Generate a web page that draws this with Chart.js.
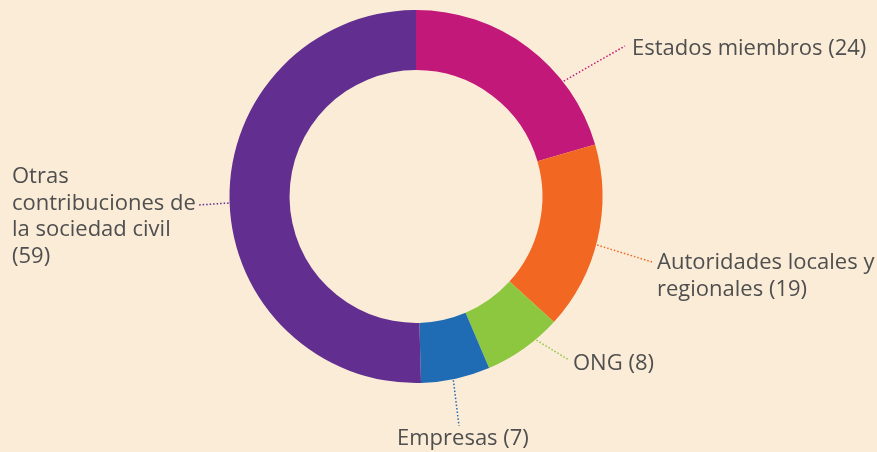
<!DOCTYPE html>
<html>
<head>
<meta charset="utf-8">
<script src="https://cdn.jsdelivr.net/npm/chart.js@4/dist/chart.umd.min.js"></script>
<style>
  html, body { margin: 0; padding: 0; background: #faecd7; }
  #chart { display: block; }
</style>
</head>
<body>
<canvas id="chart" width="877" height="452"></canvas>
<script>
// Data
const categories = ["Estados miembros", "Autoridades locales y regionales", "ONG", "Empresas", "Otras contribuciones de la sociedad civil"];
const values = [24, 19, 8, 7, 59];
const colors = ["#c2187a", "#f26722", "#8dc63f", "#1f6bb4", "#622e8f"];
// how each label is broken into lines (the count is appended to the last line)
const labelLines = [
  ["Estados miembros"],
  ["Autoridades locales y", "regionales"],
  ["ONG"],
  ["Empresas"],
  ["Otras", "contribuciones de", "la sociedad civil", ""]
];

// Label placement: leader start angle (deg clockwise from top), leader end, text origin
const labelLayout = [
  { angle: 52, endX: 625, endY: 46, textX: 632, textY: 55 },
  { angle: 105, endX: 652, endY: 262, textX: 657, textY: 269 },
  { angle: 140, endX: 569, endY: 360, textX: 573, textY: 370 },
  { angle: 168.5, endX: 459, endY: 426, textX: 397, textY: 445 },
  { angle: 268, endX: 198, endY: 205, textX: 12, textY: 183 }
];

const FONT = '22px "Open Sans", sans-serif';
const LINE_H = 26.5;

const calloutPlugin = {
  id: "callouts",
  afterDatasetsDraw(chart) {
    const ctx = chart.ctx;
    const arc = chart.getDatasetMeta(0).data[0];
    const cx = arc.x, cy = arc.y, R = arc.outerRadius;
    ctx.save();
    labelLayout.forEach((l, i) => {
      const a = l.angle * Math.PI / 180;
      const sx = cx + (R + 1) * Math.sin(a);
      const sy = cy - (R + 1) * Math.cos(a);
      ctx.strokeStyle = colors[i];
      ctx.lineWidth = 1.5;
      ctx.setLineDash([1.5, 2]);
      ctx.beginPath();
      ctx.moveTo(sx, sy);
      ctx.lineTo(l.endX, l.endY);
      ctx.stroke();

      const lines = labelLines[i].slice();
      const last = lines.pop();
      lines.push((last ? last + " " : "") + "(" + values[i] + ")");
      ctx.setLineDash([]);
      ctx.fillStyle = "#4f4f4f";
      ctx.font = FONT;
      ctx.textAlign = "left";
      ctx.textBaseline = "alphabetic";
      lines.forEach((t, j) => ctx.fillText(t, l.textX, l.textY + j * LINE_H));
    });
    ctx.restore();
  }
};

new Chart(document.getElementById("chart"), {
  type: "doughnut",
  data: {
    labels: categories,
    datasets: [{
      data: values,
      backgroundColor: colors,
      borderWidth: 0
    }]
  },
  options: {
    responsive: false,
    animation: false,
    cutout: "67.8%",
    layout: { padding: { left: 229.5, right: 274.5, top: 10, bottom: 69 } },
    plugins: {
      legend: { display: false },
      tooltip: { enabled: false }
    }
  },
  plugins: [calloutPlugin]
});
</script>
</body>
</html>
